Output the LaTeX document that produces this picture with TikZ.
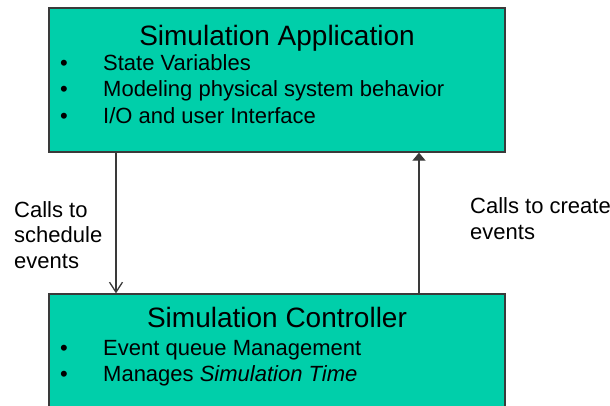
\documentclass[tikz,border=0pt]{standalone}
\usepackage{fontspec}
\setmainfont{Liberation Sans}
\usetikzlibrary{arrows.meta, positioning}

\definecolor{boxteal}{HTML}{00CFAA}
\definecolor{edgegray}{HTML}{3A3A3A}

\tikzset{
  block/.style={rectangle, draw=edgegray, line width=1.3pt, fill=boxteal, minimum width=456pt, inner sep=0pt},
  title/.style={anchor=base, inner sep=0pt, font=\fontsize{28}{32}\selectfont},
  item/.style={anchor=base west, inner sep=0pt, font=\fontsize{22}{26}\selectfont},
  bul/.style={anchor=base, inner sep=0pt, font=\fontsize{22}{26}\selectfont},
  note/.style={anchor=base west, inner sep=0pt, align=left, font=\fontsize{22}{25.5}\selectfont},
  call/.style={draw=edgegray, line width=1.3pt}
}

\begin{document}
\begin{tikzpicture}[x=1pt, y=-1pt]
            \useasboundingbox (0,0) rectangle (610,405);
            \clip (0,0) rectangle (610,405);

            % the two boxes
            \node[block, minimum height=144pt] (app) at (277,80) {};
            \node[block, minimum height=126pt] (ctrl) at (277,357) {};

            % Simulation Application
            \node[title] (apptitle) at (277,45) {Simulation Application};
            \node[bul] (b1) at (64,70) {\textbullet};
            \node[bul] (b2) at (64,96.5) {\textbullet};
            \node[bul] (b3) at (64,123) {\textbullet};
            \node[item] (sv) at (103,70) {State Variables};
            \node[item] (mb) at (103,96.5) {Modeling physical system behavior};
            \node[item] (io) at (103,123) {I/O and user Interface};

            % Simulation Controller
            \node[title] (ctrltitle) at (277,327) {Simulation Controller};
            \node[bul] (b4) at (64,355) {\textbullet};
            \node[bul] (b5) at (64,381.5) {\textbullet};
            \node[item] (eq) at (103,355) {Event queue Management};
            \node[item] (st) at (103,381.5) {Manages \textit{Simulation Time}};

            % calls between the boxes
            \coordinate (schedx) at (116,0);
            \coordinate (createx) at (419,0);
            \draw[call, -{Straight Barb[length=10pt, width=13pt]}] (schedx |- app.south) -- (schedx |- ctrl.north);
            \draw[call, -{Triangle[length=8pt, width=13pt]}] (createx |- ctrl.north) -- (createx |- app.south);

            \node[note] (sched) at (14,268) {Calls to\\schedule\\events};
            \node[note] (create) at (470,239) {Calls to create\\events};
        \end{tikzpicture}
\end{document}
